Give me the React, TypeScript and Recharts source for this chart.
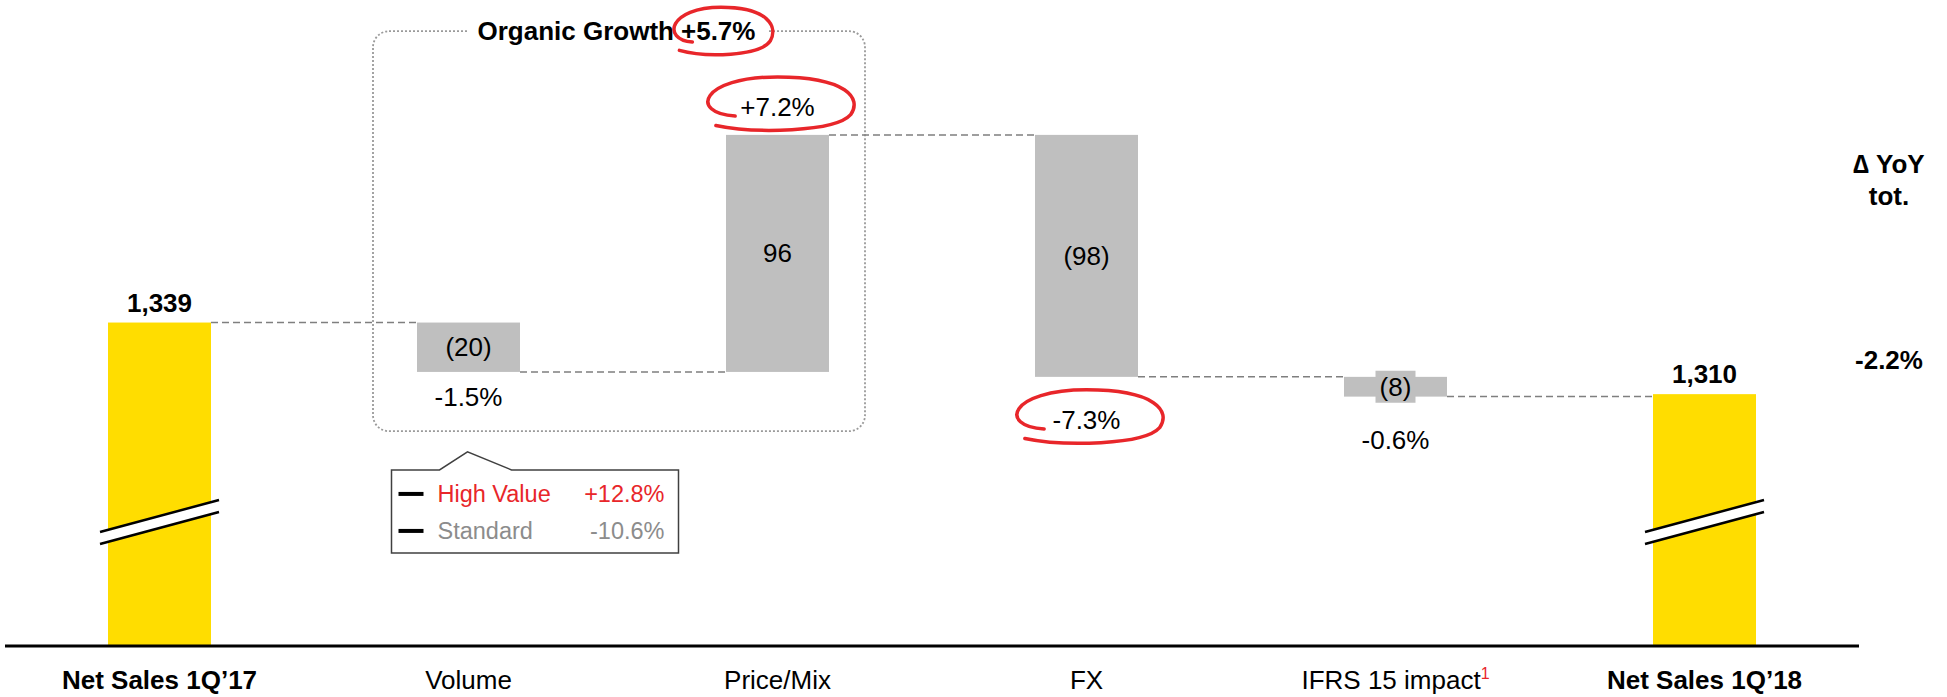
import React from 'react';
import { BarChart, Bar, XAxis, YAxis, LabelList, ReferenceArea } from 'recharts';

// waterfall: net sales bridge 1Q'17 -> 1Q'18
const categories = ['Net Sales 1Q’17', 'Volume', 'Price/Mix', 'FX', 'IFRS 15 impact', 'Net Sales 1Q’18'];
const values = [1339, -20, 96, -98, -8, 1310];
const isTotal = [true, false, false, false, false, true];
const valueLabels = ['1,339', '(20)', '96', '(98)', '(8)', '1,310'];
const pctLabels = ['', '-1.5%', '+7.2%', '-7.3%', '-0.6%', ''];
const circled = [false, false, true, true, false, false];
const footnotes = ['', '', '', '', '1', ''];

const volumeSplitNames = ['High Value', 'Standard'];
const volumeSplitValues = ['+12.8%', '-10.6%'];

const organicTitle = 'Organic Growth';
const organicGrowth = '+5.7%';
const yoyTitle = ['∆ YoY', 'tot.'];
const yoyTotal = '-2.2%';

const W = 1947;
const H = 697;
const MARGIN = { top: 46, right: 88, bottom: 11, left: 5 };
const PLOT_W = W - MARGIN.left - MARGIN.right;
const PLOT_BOTTOM = 646;
const BAND = PLOT_W / categories.length;
const BAR_SIZE = 103;

const YELLOW = '#FFDD00';
const GREY = '#BFBFBF';
const RED = '#E8262A';
const FONT = '"Liberation Sans", Arial, sans-serif';

let running = 0;
const rows = categories.map((name, i) => {
  const v = values[i];
  let low: number;
  let high: number;
  let end: 'top' | 'bottom';
  if (isTotal[i]) {
    low = 0;
    high = v;
    running = v;
    end = 'top';
  } else {
    const next = running + v;
    low = Math.min(running, next);
    high = Math.max(running, next);
    running = next;
    end = v >= 0 ? 'top' : 'bottom';
  }
  return { name, range: [low, high], end, index: i };
});

const scribble = (cx: number, cy: number, rx: number, ry: number) =>
  `M ${cx - rx * 0.55} ${cy + ry * 0.45} ` +
  `C ${cx - rx * 1.15} ${cy + ry * 0.35}, ${cx - rx * 1.0} ${cy - ry}, ${cx} ${cy - ry} ` +
  `C ${cx + rx * 0.9} ${cy - ry}, ${cx + rx * 1.1} ${cy - ry * 0.2}, ${cx + rx * 0.95} ${cy + ry * 0.4} ` +
  `C ${cx + rx * 0.75} ${cy + ry * 1.05}, ${cx - rx * 0.3} ${cy + ry * 1.1}, ${cx - rx * 0.8} ${cy + ry * 0.8}`;

const Circle = ({ cx, cy, rx, ry }: any) => (
  <path d={scribble(cx, cy, rx, ry)} fill="none" stroke={RED} strokeWidth={3.5} strokeLinecap="round" />
);

const WaterfallShape = (props: any) => {
  const { x, y, width, height, payload } = props;
  const i = payload.index;
  const top = Math.min(y, y + height);
  const bottom = Math.min(Math.max(y, y + height), PLOT_BOTTOM);
  const lineY = payload.end === 'top' ? top : bottom;
  const yc = PLOT_BOTTOM - 124;
  return (
    <g>
      <rect x={x} y={top} width={width} height={bottom - top} fill={isTotal[i] ? YELLOW : GREY} />
      {i < categories.length - 1 && (
        <line x1={x + width} x2={x + BAND} y1={lineY} y2={lineY} stroke="#7F7F7F" strokeWidth={1.5} strokeDasharray="7 4" />
      )}
      {isTotal[i] && (
        <g>
          <polygon
            points={`${x - 8},${yc + 10} ${x + width + 8},${yc - 22} ${x + width + 8},${yc - 10} ${x - 8},${yc + 22}`}
            fill="#fff"
          />
          <line x1={x - 8} y1={yc + 10} x2={x + width + 8} y2={yc - 22} stroke="#000" strokeWidth={2.5} />
          <line x1={x - 8} y1={yc + 22} x2={x + width + 8} y2={yc - 10} stroke="#000" strokeWidth={2.5} />
        </g>
      )}
    </g>
  );
};

const VolumeCallout = ({ ax, ay }: { ax: number; ay: number }) => {
  const left = ax - 76;
  const right = ax + 211;
  const top = ay + 18;
  const bottom = ay + 101;
  const colors = [RED, '#8C8C8C'];
  return (
    <g>
      <path
        d={`M ${left} ${top} L ${ax - 28} ${top} L ${ax} ${ay} L ${ax + 44} ${top} L ${right} ${top} L ${right} ${bottom} L ${left} ${bottom} Z`}
        fill="#fff"
        stroke="#404040"
        strokeWidth={1.5}
      />
      {volumeSplitNames.map((n, k) => {
        const cy = ay + 42 + k * 37;
        return (
          <g key={n}>
            <line x1={left + 7} x2={left + 32} y1={cy} y2={cy} stroke="#000" strokeWidth={4} />
            <text x={left + 46} y={cy + 8} fontSize={23.5} fill={colors[k]} fontFamily={FONT}>{n}</text>
            <text x={right - 14} y={cy + 8} fontSize={23.5} fill={colors[k]} fontFamily={FONT} textAnchor="end">
              {volumeSplitValues[k]}
            </text>
          </g>
        );
      })}
    </g>
  );
};

const BarLabel = (props: any) => {
  const vb = props.viewBox && props.viewBox.width !== undefined ? props.viewBox : props;
  const { x, y, width, height } = vb;
  const i = categories.indexOf(props.value);
  if (i < 0) return null;
  const cx = x + width / 2;
  const top = Math.min(y, y + height);
  const bottom = Math.min(Math.max(y, y + height), PLOT_BOTTOM);
  const textProps = { fontFamily: FONT, fontSize: 26, fill: '#000', textAnchor: 'middle' as const };
  if (isTotal[i]) {
    return (
      <text {...textProps} x={cx} y={top - 11} fontWeight={700}>{valueLabels[i]}</text>
    );
  }
  const mid = (top + bottom) / 2;
  const small = bottom - top < 30;
  const positive = values[i] >= 0;
  const inBox = i === 1 || i === 2;
  const pctCenter = positive ? top - 28 : bottom + (inBox ? 25 : 43);
  return (
    <g>
      {small && <rect x={cx - 20} y={mid - 16} width={40} height={32} fill={GREY} />}
      <text {...textProps} x={cx} y={mid + 9}>{valueLabels[i]}</text>
      <text {...textProps} x={cx} y={pctCenter + 9}>{pctLabels[i]}</text>
      {circled[i] && <Circle cx={cx} cy={pctCenter - 3} rx={77} ry={27} />}
      {categories[i] === 'Volume' && <VolumeCallout ax={cx - 1} ay={bottom + 80} />}
    </g>
  );
};

const OrganicBox = (props: any) => {
  const { x, y, width, height } = props;
  const x1 = x + 59;
  const x2 = x + width - 67;
  const mid = (x1 + x2) / 2;
  const split = mid + 62;
  return (
    <g>
      <rect x={x1} y={y} width={x2 - x1} height={height} rx={16} ry={16} fill="none" stroke="#9A9A9A" strokeWidth={1.8} strokeDasharray="2 2" />
      <rect x={mid - 150} y={y - 15} width={300} height={30} fill="#fff" />
      <text x={split - 7} y={y + 9} textAnchor="end" fontSize={26} fontWeight={700} fontFamily={FONT} fill="#000">{organicTitle}</text>
      <text x={split} y={y + 9} fontSize={26} fontWeight={700} fontFamily={FONT} fill="#000">{organicGrowth}</text>
      <Circle cx={split + 40} cy={y} rx={52} ry={24} />
    </g>
  );
};

const CategoryTick = (props: any) => {
  const { x, y, payload } = props;
  const i = categories.indexOf(payload.value);
  return (
    <text x={x} y={y + 35} textAnchor="middle" fontSize={26} fontFamily={FONT} fontWeight={isTotal[i] ? 700 : 400} fill="#000">
      {payload.value}
      {footnotes[i] ? <tspan fill={RED} fontSize={16} dy={-10}>{footnotes[i]}</tspan> : null}
    </text>
  );
};

export default function App() {
  return (
    <div style={{ position: 'absolute', left: 0, top: 0, width: W, height: H, background: '#fff' }}>
      <BarChart width={W} height={H} data={rows} margin={MARGIN}>
        <XAxis
          dataKey="name"
          interval={0}
          height={40}
          tickLine={false}
          axisLine={{ stroke: '#000', strokeWidth: 3 }}
          tick={<CategoryTick />}
        />
        <YAxis hide domain={[1208, 1451]} allowDataOverflow />
        <ReferenceArea x1="Volume" x2="Price/Mix" y1={1457} y2={1295} ifOverflow="visible" shape={OrganicBox} />
        <Bar dataKey="range" barSize={BAR_SIZE} isAnimationActive={false} shape={WaterfallShape}>
          <LabelList dataKey="name" content={BarLabel} />
        </Bar>
      </BarChart>
      <svg width={W} height={H} style={{ position: 'absolute', left: 0, top: 0, pointerEvents: 'none' }}>
        <g fontFamily={FONT} fontSize={26} fontWeight={700} textAnchor="middle" fill="#000">
          <text x={1889} y={173}>{yoyTitle[0]}</text>
          <text x={1889} y={205}>{yoyTitle[1]}</text>
          <text x={1889} y={369}>{yoyTotal}</text>
        </g>
      </svg>
    </div>
  );
}
